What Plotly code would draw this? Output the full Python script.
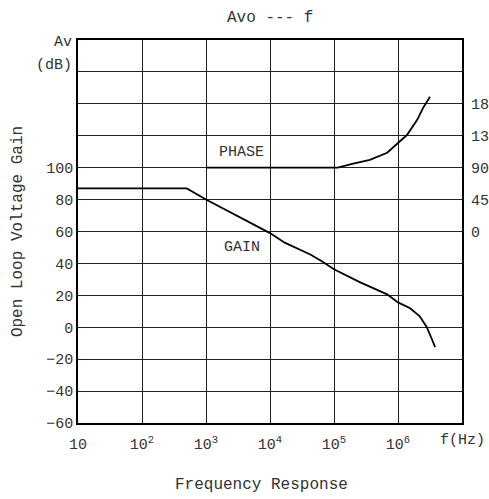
import plotly.graph_objects as go

# ---- data ----
gain_freq = [10, 501, 1000, 1660, 10000, 16980, 42660, 64570, 100000, 257000,
             676000, 1000000, 1549000, 2188000, 2818000, 3388000, 3802000]
gain_db = [87, 87, 80, 75.4, 59, 53, 45.6, 41.3, 36.3, 28.1,
           20.6, 15.6, 11.9, 6.9, 0, -7.5, -12.5]

phase_freq = [1000, 114800, 199500, 363000, 676000, 1000000, 1380000,
              1995000, 2455000, 3162000]
phase_deg = [90, 90, 95.6, 101, 111, 125, 136, 157.5, 174, 190]

x_tickvals = [10, 100, 1000, 10000, 100000, 1000000, 10000000]
x_ticktext = ["10", "10<sup>2</sup>", "10<sup>3</sup>", "10<sup>4</sup>",
              "10<sup>5</sup>", "10<sup>6</sup>", ""]
y_tickvals = [-60, -40, -20, 0, 20, 40, 60, 80, 100, 120, 140, 160, 180]
y_ticktext = ["\u221260", "\u221240", "\u221220", "0", "20", "40", "60", "80", "100",
              "", "", "", ""]
phase_tickvals = [0, 45, 90, 135, 180]
phase_ticktext = ["0", "45", "90", "13", "18"]

FONT = "Liberation Mono, DejaVu Sans Mono, monospace"
TXT = "#333"

fig = go.Figure()
fig.add_trace(go.Scatter(x=gain_freq, y=gain_db, mode="lines",
                         line=dict(color="black", width=1.8), showlegend=False))
fig.add_trace(go.Scatter(x=phase_freq, y=phase_deg, mode="lines", yaxis="y2",
                         line=dict(color="black", width=1.8),
                         showlegend=False))

fig.update_layout(
    width=489, height=499,
    margin=dict(l=78, r=27, t=40, b=76, autoexpand=False),
    paper_bgcolor="white", plot_bgcolor="white",
    font=dict(family=FONT, size=15, color=TXT),
    xaxis=dict(type="log", range=[1, 7], tickvals=x_tickvals, ticktext=x_ticktext,
               showgrid=True, gridcolor="#222", gridwidth=1,
               showline=True, linecolor="black", linewidth=2, mirror=True,
               ticks="", ticklabelstandoff=6, zeroline=False, automargin=False),
    yaxis=dict(range=[-60, 180], tickvals=y_tickvals, ticktext=y_ticktext,
               showgrid=True, gridcolor="#222", gridwidth=1,
               showline=True, linecolor="black", linewidth=1.5, mirror=True,
               ticks="", zeroline=False, automargin=False,
               title=dict(text="Open Loop Voltage Gain", standoff=20,
                          font=dict(size=16, family=FONT, color=TXT))),
    yaxis2=dict(overlaying="y", side="right", range=[-270, 270],
                tickvals=phase_tickvals, ticktext=phase_ticktext,
                showgrid=False, zeroline=False, showline=False, ticks="",
                ticklabelstandoff=8, automargin=False),
    annotations=[
        dict(text="Avo --- f", xref="paper", yref="paper", x=0.5, y=1,
             yshift=22, showarrow=False, xanchor="center", yanchor="middle",
             font=dict(size=16)),
        dict(text="Frequency Response", xref="paper", yref="paper", x=0.478, y=0,
             yshift=-62, showarrow=False, xanchor="center", yanchor="middle",
             font=dict(size=16)),
        dict(text="f(Hz)", xref="x", yref="paper", x=7, y=0, yshift=-17,
             showarrow=False, xanchor="center", yanchor="middle"),
        dict(text="Av", xref="paper", yref="paper", x=0, y=1, xshift=-4, yshift=-2,
             showarrow=False, xanchor="right", yanchor="middle"),
        dict(text="(dB)", xref="paper", yref="paper", x=0, y=1, xshift=-4, yshift=-25,
             showarrow=False, xanchor="right", yanchor="middle"),
        dict(text="PHASE", xref="x", yref="y", x=3.56, y=109.4,
             showarrow=False, xanchor="center", yanchor="middle"),
        dict(text="GAIN", xref="x", yref="y", x=3.56, y=50,
             showarrow=False, xanchor="center", yanchor="middle"),
    ],
)

fig.write_html("out.html")
